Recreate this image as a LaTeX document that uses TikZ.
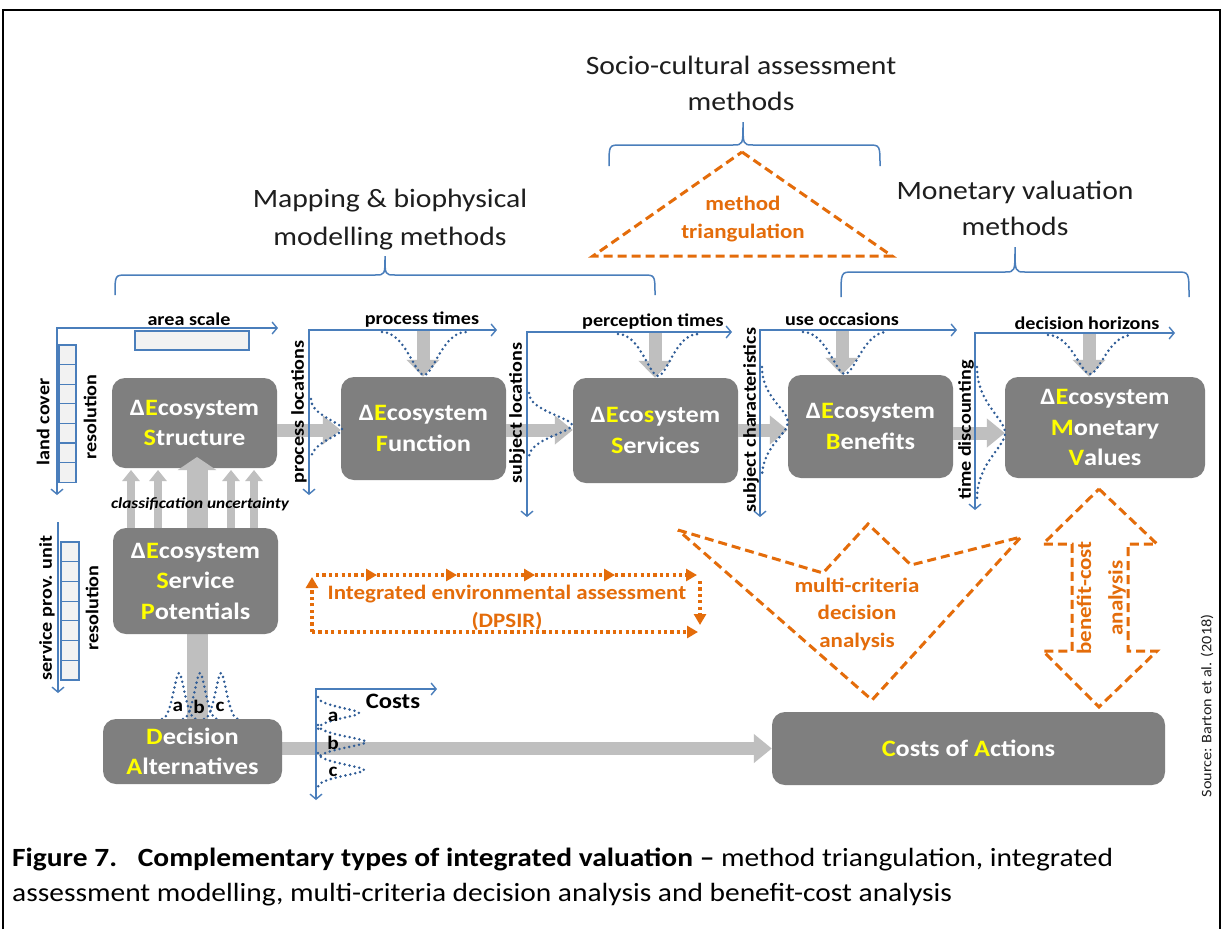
\documentclass[tikz,border=0pt]{standalone}
\usepackage{fontspec}
\setmainfont{Carlito}[FakeStretch=1.12]
\usetikzlibrary{arrows.meta,calc}

\definecolor{boxgray}{HTML}{7F7F7F}
\definecolor{flowgray}{HTML}{BFBFBF}
\definecolor{axisblue}{HTML}{4A7EBB}
\definecolor{dotblue}{HTML}{2F5C96}
\definecolor{mcorange}{HTML}{E46C0A}
\definecolor{keyyellow}{HTML}{FFFF00}
\definecolor{cellfill}{HTML}{F2F2F2}
\definecolor{headtext}{HTML}{1E1E1E}

\pgfdeclarelayer{boxes}
\pgfdeclarelayer{front}
\pgfsetlayers{boxes,main,front}

\newcommand{\ky}[1]{\textcolor{keyyellow}{#1}}
\newcommand{\fsz}[2]{\fontsize{#1}{#2}\selectfont}
% curly brace over a group of methods: x-left, x-right, x-tip, y-bar, y-ends, y-tip
\newcommand{\methodbrace}[6]{%
  \draw[bracepath] ({#1},{#5}) .. controls ({#1},{#4}) .. ({#1+12},{#4}) -- ({#3-10},{#4})
    .. controls ({#3},{#4}) .. ({#3},{#6}) .. controls ({#3},{#4}) .. ({#3+10},{#4})
    -- ({#2-12},{#4}) .. controls ({#2},{#4}) .. ({#2},{#5});}
% distribution hanging from a horizontal axis: x-centre, y-axis, half width, depth
\newcommand{\topbell}[4]{%
  \draw[bell] ({#1-#3},{#2}) .. controls ({#1-0.45*#3},{#2}) and ({#1-0.22*#3},{#2+(#4)}) .. ({#1},{#2+(#4)})
    .. controls ({#1+0.22*#3},{#2+(#4)}) and ({#1+0.45*#3},{#2}) .. ({#1+#3},{#2});}
% distribution beside a vertical axis: x-axis, y-centre, half height, depth
\newcommand{\sidebell}[4]{%
  \draw[bell] ({#1},{#2-#3}) .. controls ({#1},{#2-0.45*#3}) and ({#1+#4},{#2-0.22*#3}) .. ({#1+#4},{#2})
    .. controls ({#1+#4},{#2+0.22*#3}) and ({#1},{#2+0.45*#3}) .. ({#1},{#2+#3});}

\tikzset{
  ecobox/.style={fill=boxgray, rounded corners=13pt, text=white, align=center,
    font=\fsz{23.5}{30.5}\bfseries, inner sep=0pt},
  heading/.style={text=headtext, font=\fsz{26.5}{32}, inner sep=0pt},
  axlabel/.style={text=black, font=\fsz{18}{20}\bfseries, inner sep=0pt},
  smallletter/.style={text=black, font=\fsz{19}{20}\bfseries, inner sep=0pt},
  otext/.style={text=mcorange, font=\fsz{20.5}{28}\bfseries, align=center, inner sep=0pt},
  bracepath/.style={draw=axisblue, line width=1.5pt},
  axis/.style={draw=axisblue, line width=1.4pt,
    {Straight Barb[length=5pt,width=12pt]}-{Straight Barb[length=5pt,width=12pt]}},
  axisdown/.style={draw=axisblue, line width=1.4pt, -{Straight Barb[length=5pt,width=12pt]}},
  cell/.style={draw=axisblue, line width=1.2pt, fill=cellfill},
  bell/.style={draw=dotblue, line width=2.8pt, line cap=round, dash pattern=on 0pt off 5pt},
  hflow/.style={draw=flowgray, line width=13pt, -{Triangle[width=28pt,length=18pt]}},
  vflow/.style={draw=flowgray, line width=13pt, -{Triangle[width=32pt,length=17pt]}},
  mainflow/.style={draw=flowgray, line width=21pt, -{Triangle[width=38pt,length=13pt]}},
  thinflow/.style={draw=flowgray, line width=8pt, -{Triangle[width=17pt,length=11pt]}},
  odash/.style={draw=mcorange, line width=3pt, dash pattern=on 9pt off 5pt},
  odot/.style={draw=mcorange, line width=3.2pt, dash pattern=on 3.2pt off 3.2pt,
    -{Triangle[width=12pt,length=11pt]}},
}

\begin{document}
\begin{tikzpicture}[x=1pt,y=-1pt]
\useasboundingbox (0,0) rectangle (1223,929);
\begin{pgfonlayer}{boxes}
\fill[white] (0,0) rectangle (1223,929);
\end{pgfonlayer}
\draw[line width=1.5pt] (3,929) -- (3,10) -- (1220,10) -- (1220,929);

% method families and their braces
\node[heading, anchor=base] (socioA) at (741,74) {Socio-cultural assessment};
\node[heading, anchor=base] (socioB) at (741,110) {methods};
\node[heading, anchor=base] (mapA) at (390,207) {Mapping \& biophysical};
\node[heading, anchor=base] (mapB) at (390,245) {modelling methods};
\node[heading, anchor=base] (monA) at (1015,199) {Monetary valuation};
\node[heading, anchor=base] (monB) at (1015,235) {methods};
\methodbrace{609}{880}{743}{145}{166}{122}
\methodbrace{115}{655}{385}{275}{295}{256}
\methodbrace{841}{1189}{1015}{272}{297}{247}

% method triangulation
\draw[odash] (742,152) -- (892,256) -- (593,256) -- cycle;
\node[otext] (triang) at (743,219) {method\\triangulation};

% ecosystem cascade
\begin{pgfonlayer}{boxes}
\node[ecobox, minimum width=165pt, minimum height=90pt] (struct) at (194.5,423) {Δ\ky{E}cosystem\\\ky{S}tructure};
\node[ecobox, minimum width=165pt, minimum height=103pt] (func) at (423.5,428.5) {Δ\ky{E}cosystem\\\ky{F}unction};
\node[ecobox, minimum width=165pt, minimum height=105pt] (serv) at (655.5,430.5) {Δ\ky{E}co\ky{s}ystem\\\ky{S}ervices};
\node[ecobox, minimum width=165pt, minimum height=103pt] (bene) at (870.5,426.5) {Δ\ky{E}cosystem\\\ky{B}enefits};
\node[ecobox, minimum width=200pt, minimum height=101pt] (monet) at (1105,427.5) {Δ\ky{E}cosystem\\\ky{M}onetary\\\ky{V}alues};
\node[ecobox, minimum width=393pt, minimum height=73pt] (costs) at (968.5,748.5) {\ky{C}osts of \ky{A}ctions};
\end{pgfonlayer}
\begin{pgfonlayer}{front}
\node[ecobox, minimum width=165pt, minimum height=106pt] (potent) at (195.5,581) {Δ\ky{E}cosystem\\\ky{S}ervice\\\ky{P}otentials};
\node[ecobox, minimum width=179pt, minimum height=65pt] (decis) at (192.5,751.5) {\ky{D}ecision\\\ky{A}lternatives};
\end{pgfonlayer}

% flows between the boxes
\coordinate (rowA) at (0,430);
\coordinate (rowB) at (0,433);
\coordinate (rowC) at (0,748.5);
\draw[hflow] (struct.east |- rowA) -- (func.west |- rowA);
\draw[hflow] (func.east |- rowA) -- (serv.west |- rowA);
\draw[hflow] (serv.east |- rowA) -- (bene.west |- rowA);
\draw[hflow] (bene.east |- rowB) -- (monet.west |- rowB);
\draw[hflow] (decis.east |- rowC) -- (costs.west |- rowC);

\coordinate (ptime) at (423,330);
\coordinate (pcept) at (655,332);
\coordinate (useocc) at (842,330);
\coordinate (dhor) at (1089,333);
\draw[vflow] (ptime) -- (ptime |- func.north);
\draw[vflow] (pcept) -- (pcept |- serv.north);
\draw[vflow] (useocc) -- (useocc |- bene.north);
\draw[vflow] (dhor) -- (dhor |- monet.north);

\coordinate (spine) at (197,457);
\draw[mainflow] (decis.north -| spine) -- (spine);
\foreach \xx in {131,158,231,254} \draw[thinflow] (\xx,528) -- (\xx,470);
\node[font=\fsz{15.4}{16}\bfseries\itshape, inner sep=0pt] (classunc) at (200,504) {classification uncertainty};

% land cover / area scale
\draw[axis] (278,328) -- (57,328) -- (57,495);
\node[axlabel] (areascale) at (189,319) {area scale};
\draw[cell] (135,331) rectangle (249,350);
\foreach \i in {0,...,6} \draw[cell] (59,{345+19.6*\i}) rectangle (76,{364.6+19.6*\i});
\node[axlabel, rotate=90] (landcover) at (43,422) {land cover};
\node[axlabel, rotate=90] (resA) at (90,417) {resolution};

% service providing units
\draw[axisdown] (58,522) -- (58,693);
\foreach \i in {0,...,6} \draw[cell] (61,{542+19.7*\i}) rectangle (79,{561.7+19.7*\i});
\node[axlabel, rotate=90] (spu) at (47,608) {service prov. unit};
\node[axlabel, rotate=90] (resB) at (92,608) {resolution};

% process axes
\draw[axis] (497,330) -- (309,330) -- (309,495);
\node[axlabel] (ptimes) at (422,320) {process times};
\node[axlabel, rotate=90] (plocs) at (299,412) {process locations};
\topbell{424}{332}{42}{43}
\sidebell{311}{429}{30}{31}

% perception axes
\draw[axis] (732,332) -- (527,332) -- (527,517);
\node[axlabel] (pctimes) at (653,322) {perception times};
\node[axlabel, rotate=90] (slocs) at (517,413) {subject locations};
\topbell{658}{334}{40}{42}
\sidebell{529}{425}{32}{43}

% use axes
\draw[axis] (957,330) -- (760,330) -- (760,517);
\node[axlabel] (uocc) at (842,319) {use occasions};
\node[axlabel, rotate=90] (schar) at (751,420) {subject characteristics};
\topbell{845}{332}{42}{42}
\sidebell{762}{422}{55}{26}

% decision axes
\draw[axis] (1175,333) -- (975,333) -- (975,510);
\node[axlabel] (dhors) at (1087,323) {decision horizons};
\node[axlabel, rotate=90] (tdisc) at (966,430) {time discounting};
\topbell{1090}{335}{42}{39}
\sidebell{977}{433}{66}{28}

% alternatives a, b, c
\topbell{179}{719}{17}{-46}
\topbell{200}{719}{17}{-46}
\topbell{221}{719}{17}{-46}
\node[smallletter] (altA) at (178,707) {a};
\node[smallletter] (altB) at (199,707) {b};
\node[smallletter] (altC) at (220,707) {c};

% costs per alternative
\draw[axis] (437,689) -- (316,689) -- (316,800);
\node[font=\fsz{22}{24}\bfseries, inner sep=0pt] (costlbl) at (393,701) {Costs};
\sidebell{318}{713}{16}{41}
\sidebell{318}{742}{17}{48}
\sidebell{318}{770}{17}{46}
\node[smallletter] (costA) at (333,717) {a};
\node[smallletter] (costB) at (333,743) {b};
\node[smallletter] (costC) at (333,772) {c};

% integrated environmental assessment loop
\draw[odot] (312,632) -- (312,577);
\draw[odot] (316,575) -- (377,575);
\draw[odot] (377,575) -- (457,575);
\draw[odot] (457,575) -- (535,575);
\draw[odot] (535,575) -- (615,575);
\draw[odot] (615,575) -- (697,575);
\draw[odot] (700,581) -- (700,625);
\draw[odot] (312,632) -- (698,632);
\node[otext] (dpsir) at (507,607.5) {Integrated environmental assessment\\(DPSIR)};

% multi-criteria decision analysis
\draw[odash] (678,530) -- (823,573) -- (868,524) -- (911,565) -- (1021,537) -- (872,700) -- cycle;
\node[otext, font=\fsz{20.5}{27.5}\bfseries] (mcda) at (857,614) {multi-criteria\\decision\\analysis};

% benefit-cost analysis
\draw[odash] (1099,489) -- (1157,544) -- (1128,544) -- (1128,651) -- (1157,651) -- (1099,707)
  -- (1043,651) -- (1072,651) -- (1072,544) -- (1043,544) -- cycle;
\node[otext, rotate=90] (bcaA) at (1084,598) {benefit-cost};
\node[otext, rotate=90] (bcaB) at (1117,598) {analysis};

\node[rotate=90, text=headtext, font=\fsz{14.5}{16}, inner sep=0pt] (src) at (1207,706) {Source: Barton et al. (2018)};

% caption
\node[anchor=base west, inner sep=0pt, font=\fsz{26.3}{30}] (capA) at (12,866)
  {\textbf{Figure 7.\hspace{0.45em} Complementary types of integrated valuation --} method triangulation, integrated};
\node[anchor=base west, inner sep=0pt, font=\fsz{26.3}{30}] (capB) at (12,901)
  {assessment modelling, multi-criteria decision analysis and benefit-cost analysis};
\end{tikzpicture}
\end{document}
